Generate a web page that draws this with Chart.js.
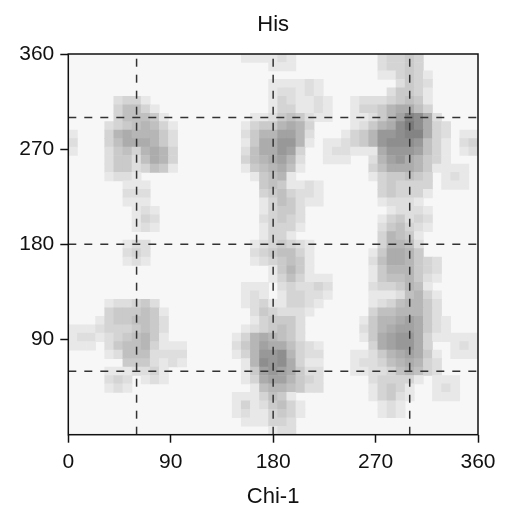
<!DOCTYPE html>
<html>
<head>
<meta charset="utf-8">
<title>His</title>
<script src="https://cdn.jsdelivr.net/npm/chart.js@4"></script>
<style>
  html, body { margin: 0; padding: 0; background: #fff; }
  canvas { display: block; }
</style>
</head>
<body>
<canvas id="myChart" width="507" height="515"></canvas>
<script>
'use strict';
const chartTitle = 'His'
const xTitle = 'Chi-1'
const xTicks = [0, 90, 180, 270, 360]
const yTicks = [90, 180, 270, 360]
const guideAngles = [60, 180, 300]
const binSize = 8

// density level per cell, top row (352-360) first, left column (0-8) first
const rows = [
  [0,0,0,0,0, 0,0,0,0,0, 0,0,0,0,0, 0,0,0,0,1, 1,1,1,2,1, 0,0,0,0,0, 0,0,0,0,2, 3,3,4,3,0, 0,0,0,0,0],
  [0,0,0,0,0, 0,0,0,0,0, 0,0,0,0,0, 0,0,0,0,0, 0,0,1,1,1, 0,0,0,0,0, 0,0,0,0,2, 3,3,4,3,0, 0,0,0,0,0],
  [0,0,0,0,0, 0,0,0,0,0, 0,0,0,0,0, 0,0,0,0,0, 0,0,0,0,0, 0,0,0,0,0, 0,0,0,0,1, 1,3,4,3,1, 0,0,0,0,0],
  [0,0,0,0,0, 0,0,0,0,0, 0,0,0,0,0, 0,0,0,0,0, 0,0,1,1,1, 1,2,1,0,0, 0,0,0,0,0, 0,2,4,3,2, 0,0,0,0,0],
  [0,0,0,0,0, 0,0,0,0,0, 0,0,0,0,0, 0,0,0,0,0, 0,0,1,2,2, 1,2,1,0,0, 0,0,0,0,0, 2,4,4,3,1, 0,0,0,0,0],
  [0,0,0,0,0, 2,3,3,1,0, 0,0,0,0,0, 0,0,0,0,0, 0,0,1,3,2, 1,1,2,1,0, 0,1,2,2,2, 3,4,5,4,1, 0,0,0,0,0],
  [0,0,0,0,0, 3,5,5,3,1, 0,0,0,0,0, 0,0,0,0,0, 0,0,1,3,3, 1,1,2,1,0, 0,1,3,3,4, 6,7,7,5,3, 0,0,0,0,0],
  [0,0,0,0,0, 3,5,5,5,4, 1,0,0,0,0, 0,0,0,0,0, 1,1,2,4,5, 4,2,1,1,0, 0,1,1,2,4, 6,8,11,10,7, 2,0,0,0,0],
  [0,0,0,0,2, 3,4,5,6,5, 3,1,0,0,0, 0,0,0,0,1, 3,4,4,6,7, 6,3,0,0,0, 0,1,2,4,6, 7,10,12,10,7, 3,2,0,0,0],
  [1,0,0,0,3, 6,7,6,6,6, 4,2,0,0,0, 0,0,0,0,2, 4,6,6,8,8, 6,2,0,0,0, 1,3,4,6,9, 9,10,11,11,7, 3,2,0,1,1],
  [2,0,0,0,3, 5,7,7,7,6, 4,2,0,0,0, 0,0,0,0,1, 4,7,7,9,9, 6,1,0,1,1, 2,3,4,6,9, 10,10,10,9,5, 3,1,0,2,3],
  [1,0,0,0,2, 4,5,3,6,7, 6,3,0,0,0, 0,0,0,0,2, 5,7,7,9,8, 3,0,0,1,2, 2,1,1,1,7, 9,9,9,8,5, 3,1,0,1,2],
  [0,0,0,0,2, 4,4,2,5,7, 6,3,0,0,0, 0,0,0,0,3, 5,6,7,8,6, 2,0,0,1,1, 1,0,0,2,6, 8,9,7,6,4, 3,1,0,0,0],
  [0,0,0,0,2, 4,4,2,3,5, 4,1,0,0,0, 0,0,0,0,1, 4,5,6,7,5, 1,0,0,0,0, 0,0,0,3,5, 7,7,7,6,4, 1,1,1,1,0],
  [0,0,0,0,1, 2,2,1,0,0, 0,0,0,0,0, 0,0,0,0,0, 1,4,5,6,1, 0,0,0,0,0, 0,0,0,1,3, 4,4,5,4,3, 0,1,2,1,0],
  [0,0,0,0,0, 0,1,1,1,0, 0,0,0,0,0, 0,0,0,0,0, 0,4,5,4,1, 1,2,1,0,0, 0,0,0,0,3, 4,3,3,3,3, 0,1,1,1,0],
  [0,0,0,0,0, 0,2,2,2,0, 0,0,0,0,0, 0,0,0,0,0, 0,3,4,5,3, 2,2,1,0,0, 0,0,0,0,3, 4,3,3,3,1, 0,0,0,0,0],
  [0,0,0,0,0, 0,1,1,1,0, 0,0,0,0,0, 0,0,0,0,0, 0,1,3,5,4, 2,1,1,0,0, 0,0,0,0,1, 2,2,2,1,0, 0,0,0,0,0],
  [0,0,0,0,0, 0,0,1,2,1, 0,0,0,0,0, 0,0,0,0,0, 0,1,3,4,4, 2,0,0,0,0, 0,0,0,0,0, 1,2,2,2,1, 0,0,0,0,0],
  [0,0,0,0,0, 0,0,1,3,2, 0,0,0,0,0, 0,0,0,0,0, 0,2,3,4,3, 2,0,0,0,0, 0,0,0,0,1, 3,4,2,3,2, 0,0,0,0,0],
  [0,0,0,0,0, 0,0,1,2,1, 0,0,0,0,0, 0,0,0,0,0, 0,1,3,3,3, 1,0,0,0,0, 0,0,0,0,2, 4,5,3,2,1, 0,0,0,0,0],
  [0,0,0,0,0, 0,0,0,0,0, 0,0,0,0,0, 0,0,0,0,0, 0,1,3,3,1, 0,0,0,0,0, 0,0,0,0,3, 6,5,4,1,0, 0,0,0,0,0],
  [0,0,0,0,0, 0,1,2,2,0, 0,0,0,0,0, 0,0,0,0,0, 1,2,3,4,3, 2,1,0,0,0, 0,0,0,0,3, 6,6,5,2,0, 0,0,0,0,0],
  [0,0,0,0,0, 0,2,3,2,0, 0,0,0,0,0, 0,0,0,0,0, 2,3,4,5,5, 3,1,0,0,0, 0,0,0,1,4, 7,7,6,4,0, 0,0,0,0,0],
  [0,0,0,0,0, 0,1,2,1,0, 0,0,0,0,0, 0,0,0,0,0, 1,2,3,4,5, 4,1,0,0,0, 0,0,0,2,5, 7,7,6,4,3, 2,0,0,0,0],
  [0,0,0,0,0, 0,0,0,0,0, 0,0,0,0,0, 0,0,0,0,0, 0,0,1,4,6, 4,1,0,0,0, 0,0,0,1,4, 6,6,6,4,3, 2,0,0,0,0],
  [0,0,0,0,0, 0,0,0,0,0, 0,0,0,0,0, 0,0,0,0,0, 0,0,1,3,5, 3,1,1,1,0, 0,0,0,1,4, 5,5,6,4,2, 1,0,0,0,0],
  [0,0,0,0,0, 0,0,0,0,0, 0,0,0,0,0, 0,0,0,0,1, 1,1,0,2,3, 2,2,3,2,0, 0,0,0,2,3, 3,4,6,5,1, 0,0,0,0,0],
  [0,0,0,0,0, 0,0,0,0,0, 0,0,0,0,0, 0,0,0,0,1, 2,1,0,1,3, 3,2,2,1,0, 0,0,0,1,1, 1,2,5,6,3, 1,0,0,0,0],
  [0,0,0,0,1, 2,2,3,4,2, 0,0,0,0,0, 0,0,0,0,1, 2,3,1,1,3, 3,2,1,0,0, 0,0,0,1,2, 3,5,6,6,4, 2,0,0,0,0],
  [0,0,0,0,3, 4,4,4,5,4, 1,0,0,0,0, 0,0,0,0,0, 2,4,3,2,2, 2,1,0,0,0, 0,0,0,3,5, 5,6,6,6,4, 2,0,0,0,0],
  [0,0,0,1,3, 4,4,5,5,4, 2,0,0,0,0, 0,0,0,0,0, 1,3,4,4,4, 2,0,0,0,0, 0,0,1,4,6, 6,7,8,7,4, 2,1,0,0,0],
  [1,1,1,2,3, 3,3,4,5,4, 2,0,0,0,0, 0,0,0,0,1, 2,3,4,5,4, 2,0,0,0,0, 0,0,2,4,6, 7,8,8,7,4, 2,1,0,0,0],
  [1,2,2,1,2, 3,4,5,6,4, 1,0,0,0,0, 0,0,0,1,3, 6,7,6,5,4, 2,0,0,0,0, 0,0,1,4,7, 8,9,9,7,3, 1,1,1,1,1],
  [1,1,1,0,2, 4,5,5,6,3, 1,1,1,0,0, 0,0,0,2,4, 6,8,7,7,5, 3,2,1,0,0, 0,0,0,3,7, 8,9,9,7,3, 0,0,1,2,1],
  [0,0,0,0,1, 2,5,5,5,2, 2,2,2,0,0, 0,0,0,1,3, 6,9,9,10,6, 3,2,2,0,0, 0,1,1,2,4, 6,7,8,7,4, 1,0,1,1,1],
  [0,0,0,0,0, 0,4,4,4,2, 1,2,1,0,0, 0,0,0,0,1, 6,10,9,10,7, 3,1,1,0,0, 0,1,2,2,3, 5,6,7,6,3, 2,0,0,0,0],
  [0,0,0,0,1, 1,1,2,2,3, 1,0,0,0,0, 0,0,0,0,1, 4,8,9,8,7, 4,2,2,0,0, 0,1,1,2,2, 3,5,6,5,3, 2,0,0,0,0],
  [0,0,0,0,2, 3,2,0,1,2, 1,0,0,0,0, 0,0,0,0,1, 3,7,8,8,6, 4,3,2,0,0, 0,0,0,2,3, 3,3,3,1,0, 1,1,1,0,0],
  [0,0,0,0,1, 2,1,0,0,0, 0,0,0,0,0, 0,0,0,0,0, 1,5,6,6,5, 4,2,2,0,0, 0,0,0,1,3, 4,3,1,0,0, 1,2,1,0,0],
  [0,0,0,0,0, 0,0,0,0,0, 0,0,0,0,0, 0,0,0,1,1, 1,3,5,4,1, 0,0,0,0,0, 0,0,0,1,3, 4,2,1,0,0, 1,1,1,0,0],
  [0,0,0,0,0, 0,0,0,0,0, 0,0,0,0,0, 0,0,0,1,3, 1,2,4,5,3, 1,0,0,0,0, 0,0,0,0,1, 2,1,0,0,0, 0,0,0,0,0],
  [0,0,0,0,0, 0,0,0,0,0, 0,0,0,0,0, 0,0,0,1,2, 1,1,3,4,3, 1,0,0,0,0, 0,0,0,0,1, 2,1,0,0,0, 0,0,0,0,0],
  [0,0,0,0,0, 0,0,0,0,0, 0,0,0,0,0, 0,0,0,0,1, 1,1,3,3,2, 0,0,0,0,0, 0,0,0,0,0, 0,0,0,0,0, 0,0,0,0,0],
  [0,0,0,0,0, 0,0,0,0,0, 0,0,0,0,0, 0,0,0,0,0, 0,0,1,2,2, 0,0,0,0,0, 0,0,0,0,0, 0,0,0,0,0, 0,0,0,0,0]
]

function levelColor(level){
  let gray = 242 - level * 10
  return 'rgb(' + gray + ',' + gray + ',' + gray + ')'
}

let cells = []
let cellColors = []
for(let r = 0; r < rows.length; r++){
  for(let c = 0; c < rows[r].length; c++){
    if(rows[r][c] > 0){
      cells.push({x: c * binSize + binSize / 2, y: [360 - (r + 1) * binSize, 360 - r * binSize]})
      cellColors.push(levelColor(rows[r][c]))
    }
  }
}

function guideLine(points){
  return {
    type: 'line',
    data: points,
    borderColor: '#333',
    borderWidth: 1.5,
    borderDash: [8, 8],
    pointRadius: 0,
    fill: false,
    order: 0
  }
}

let datasets = [{
  type: 'bar',
  data: cells,
  backgroundColor: cellColors,
  borderWidth: 0,
  barPercentage: 1,
  categoryPercentage: 1,
  order: 1
}]
guideAngles.forEach(function(a){
  datasets.push(guideLine([{x: a, y: 0}, {x: a, y: 360}]))
  datasets.push(guideLine([{x: 0, y: a}, {x: 360, y: a}]))
})

const plotFrame = {
  id: 'plotFrame',
  beforeDatasetsDraw(chart){
    const a = chart.chartArea
    chart.ctx.fillStyle = '#f7f7f7'
    chart.ctx.fillRect(a.left, a.top, a.width, a.height)
  },
  afterDatasetsDraw(chart){
    const a = chart.chartArea
    chart.ctx.strokeStyle = '#111'
    chart.ctx.lineWidth = 1.5
    chart.ctx.strokeRect(a.left, a.top, a.width, a.height)
  }
}

const labelFont = {family: '"Liberation Sans", Arial, sans-serif', size: 21}
const titleFont = {family: labelFont.family, size: 22, weight: 'normal'}
const tickGrid = {offset: false, drawOnChartArea: false, drawTicks: true, tickLength: 8, tickWidth: 1.5, tickColor: '#111'}
const ctx = document.getElementById('myChart')
const myChart = new Chart(ctx, {
  data: {datasets: datasets},
  plugins: [plotFrame],
  options: {
    responsive: false,
    animation: false,
    layout: {padding: {right: 29}},
    plugins: {
      legend: {display: false},
      tooltip: {enabled: false},
      title: {
        display: true,
        fullSize: false,
        text: chartTitle,
        color: '#111',
        font: titleFont,
        padding: {top: 12, bottom: 15.6}
      }
    },
    scales: {
      x: {
        type: 'linear',
        min: 0,
        max: 360,
        offset: false,
        grid: tickGrid,
        border: {display: false},
        afterBuildTicks(axis){ axis.ticks = xTicks.map(v => ({value: v})) },
        afterFit(axis){ axis.height = 80.3 },
        ticks: {color: '#111', font: labelFont, maxRotation: 0, autoSkip: false, padding: 7},
        title: {
          display: true,
          text: xTitle,
          color: '#111',
          font: titleFont,
          padding: {top: 0, bottom: 5}
        }
      },
      y: {
        type: 'linear',
        min: 0,
        max: 360,
        grid: tickGrid,
        border: {display: false},
        afterBuildTicks(axis){ axis.ticks = yTicks.map(v => ({value: v})) },
        afterFit(axis){ axis.width = 68.3 },
        ticks: {color: '#111', font: labelFont, autoSkip: false, padding: 6}
      }
    }
  }
})
</script>
</body>
</html>
